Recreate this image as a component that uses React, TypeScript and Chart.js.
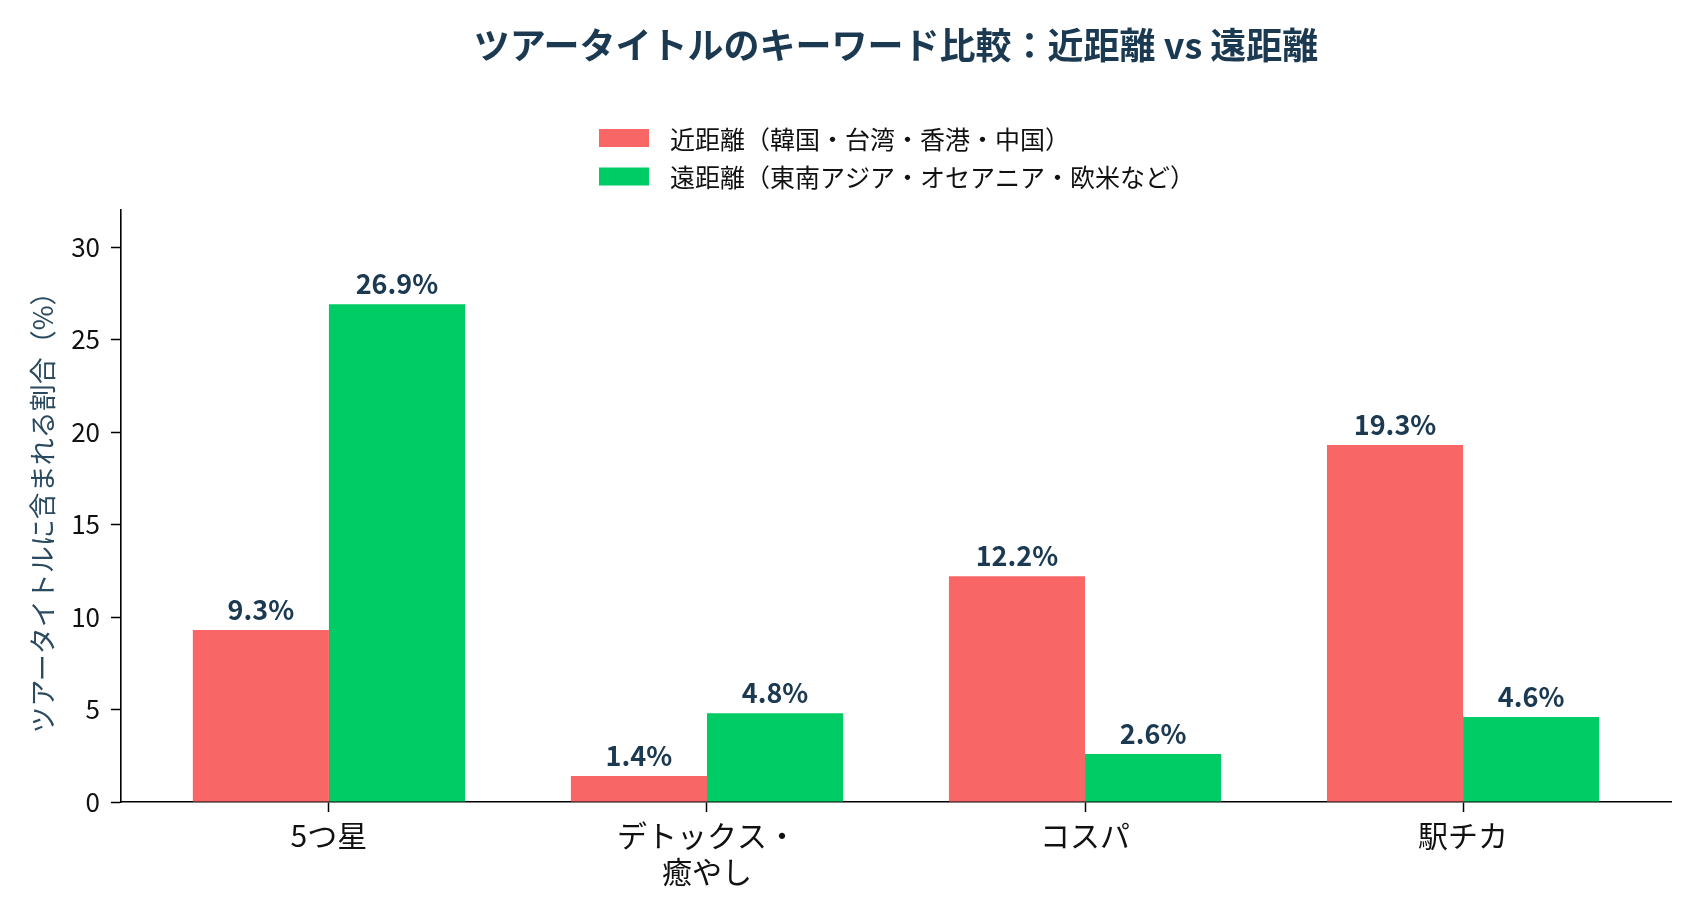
import React, { useEffect, useRef } from "react";
import { Chart, registerables } from "chart.js";

Chart.register(...registerables);

const FONT = "'Noto Sans CJK JP', 'Noto Sans', sans-serif";

const titleText = "ツアータイトルのキーワード比較：近距離 vs 遠距離";
const yAxisTitle = "ツアータイトルに含まれる割合（%）";
const categories: (string | string[])[] = ["5つ星", ["デトックス・", "癒やし"], "コスパ", "駅チカ"];
const seriesNames = ["近距離（韓国・台湾・香港・中国）", "遠距離（東南アジア・オセアニア・欧米など）"];
const nearValues = [9.3, 1.4, 12.2, 19.3];
const farValues = [26.9, 4.8, 2.6, 4.6];
const seriesColors = ["#F86666", "#00CC66"];
const yTickStep = 5;

const labelColor = "#1B3A52";

const valueLabelPlugin = {
  id: "valueLabels",
  afterDatasetsDraw(chart: any) {
    const ctx = chart.ctx;
    ctx.save();
    ctx.font = `bold 27px ${FONT}`;
    ctx.fillStyle = labelColor;
    ctx.textAlign = "center";
    ctx.textBaseline = "alphabetic";
    chart.data.datasets.forEach((ds: any, di: number) => {
      const meta = chart.getDatasetMeta(di);
      meta.data.forEach((el: any, i: number) => {
        const v = ds.data[i].y;
        ctx.fillText(`${v.toFixed(1)}%`, el.x, el.y - 10);
      });
    });
    ctx.restore();
  },
};

const columnLegendPlugin = {
  id: "columnLegend",
  afterDraw(chart: any) {
    const ctx = chart.ctx;
    const boxW = 50;
    const boxH = 18;
    const gap = 21;
    const rowCenters = [138, 176.5];
    ctx.save();
    ctx.font = `25px ${FONT}`;
    const widths = chart.data.datasets.map((d: any) => ctx.measureText(d.label).width);
    const blockW = boxW + gap + Math.max(...widths);
    const cx = (chart.chartArea.left + chart.chartArea.right) / 2 + 1;
    const left = cx - blockW / 2;
    chart.data.datasets.forEach((d: any, i: number) => {
      const y = rowCenters[i];
      ctx.fillStyle = d.backgroundColor;
      ctx.fillRect(left, y - boxH / 2, boxW, boxH);
      ctx.fillStyle = "#111111";
      ctx.textAlign = "left";
      ctx.textBaseline = "middle";
      ctx.fillText(d.label, left + boxW + gap, y + 1);
    });
    ctx.restore();
  },
};

export default function App() {
  const canvasRef = useRef<HTMLCanvasElement | null>(null);

  useEffect(() => {
    document.body.style.margin = "0";
    const canvas = canvasRef.current;
    if (!canvas) return;
    const toPoints = (vals: number[]) => vals.map((v, i) => ({ x: i, y: v }));
    const chart = new Chart(canvas, {
      type: "bar",
      data: {
        datasets: [
          {
            label: seriesNames[0],
            data: toPoints(nearValues),
            backgroundColor: seriesColors[0],
            borderWidth: 0,
            categoryPercentage: 0.72,
            barPercentage: 1.0,
          },
          {
            label: seriesNames[1],
            data: toPoints(farValues),
            backgroundColor: seriesColors[1],
            borderWidth: 0,
            categoryPercentage: 0.72,
            barPercentage: 1.0,
          },
        ] as any,
      },
      plugins: [valueLabelPlugin, columnLegendPlugin],
      options: {
        animation: false,
        responsive: true,
        maintainAspectRatio: false,
        layout: { padding: { left: 0, right: 29, top: 0, bottom: 0 } },
        plugins: {
          legend: { display: false },
          tooltip: { enabled: false },
          title: {
            display: true,
            text: titleText,
            fullSize: false,
            color: labelColor,
            font: { family: FONT, size: 36, weight: "bold" },
            padding: { top: 24, bottom: 142.8 },
          },
        },
        scales: {
          x: {
            type: "linear",
            min: -0.55,
            max: 3.55,
            offset: false,
            grid: {
              display: true,
              offset: false,
              drawOnChartArea: false,
              drawTicks: true,
              tickLength: 10,
              tickWidth: 1.5,
              tickColor: "#000000",
            },
            border: { display: true, color: "#000000", width: 1.6 },
            ticks: {
              stepSize: 1,
              includeBounds: false,
              color: "#111111",
              padding: 6,
              font: { family: FONT, size: 30, lineHeight: 1.18 },
              maxRotation: 0,
              autoSkip: false,
              callback: (value: any) => {
                const idx = Math.round(Number(value));
                return categories[idx] ?? "";
              },
            },
            afterFit: (scale: any) => {
              scale.height = 117;
            },
          },
          y: {
            type: "linear",
            min: 0,
            max: 32,
            grid: {
              display: true,
              offset: false,
              drawOnChartArea: false,
              drawTicks: true,
              tickLength: 10,
              tickWidth: 1.5,
              tickColor: "#000000",
            },
            border: { display: true, color: "#000000", width: 1.6 },
            ticks: {
              stepSize: yTickStep,
              includeBounds: false,
              color: "#111111",
              padding: 11,
              font: { family: FONT, size: 26 },
            },
            title: {
              display: true,
              text: yAxisTitle,
              color: "#2A4A60",
              font: { family: FONT, size: 27 },
              padding: { top: 27, bottom: 0 },
            },
            afterFit: (scale: any) => {
              scale.width = 121;
            },
          },
        },
      } as any,
    });
    return () => chart.destroy();
  }, []);

  return (
    <div style={{ width: "1700px", height: "919px", position: "relative", background: "#ffffff" }}>
      <canvas ref={canvasRef} />
    </div>
  );
}
